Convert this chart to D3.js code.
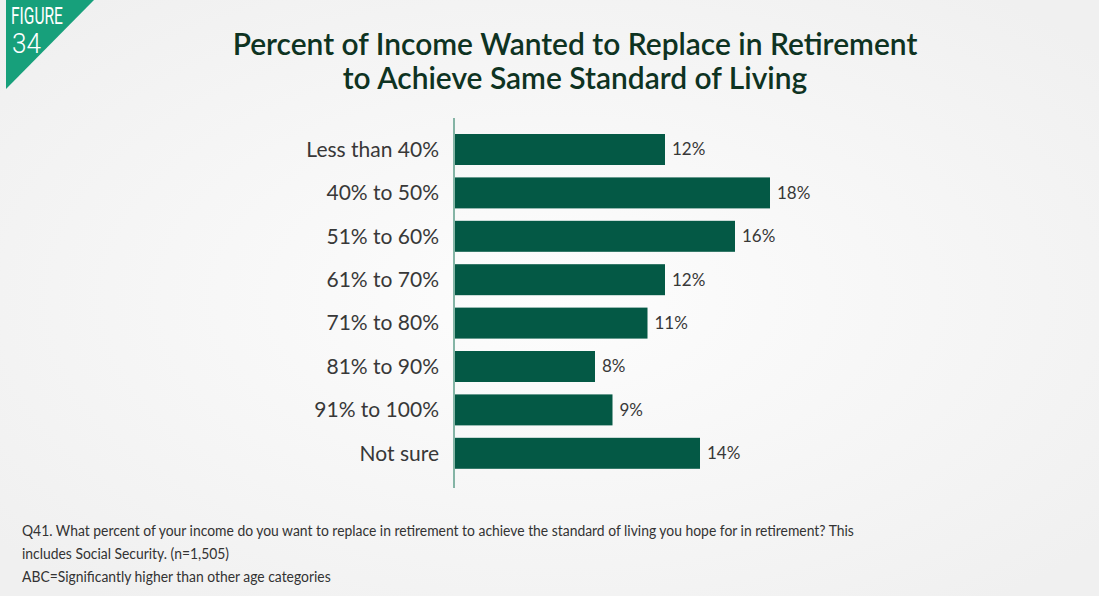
<!DOCTYPE html>
<html>
<head>
<meta charset="utf-8">
<script src="https://cdn.jsdelivr.net/npm/d3@7"></script>
<style>
  html, body { margin: 0; padding: 0; }
  body { width: 1099px; height: 596px; overflow: hidden; }
</style>
</head>
<body>
<div id="chart"></div>
<script>
// data
const categories = ["Less than 40%", "40% to 50%", "51% to 60%", "61% to 70%",
  "71% to 80%", "81% to 90%", "91% to 100%", "Not sure"];
const values = [12, 18, 16, 12, 11, 8, 9, 14];
const titleLines = ["Percent of Income Wanted to Replace in Retirement",
  "to Achieve Same Standard of Living"];
const footLines = [
  "Q41. What percent of your income do you want to replace in retirement to achieve the standard of living you hope for in retirement? This",
  "includes Social Security.  (n=1,505)",
  "ABC=Significantly higher than other age categories"
];

const width = 1099, height = 596;

const svg = d3.select("#chart").append("svg")
  .attr("width", width)
  .attr("height", height);

// soft background
const defs = svg.append("defs");
const grad = defs.append("radialGradient").attr("id", "bg")
  .attr("cx", "50%").attr("cy", "50%").attr("r", "65%");
grad.append("stop").attr("offset", "0%").attr("stop-color", "#fdfdfd");
grad.append("stop").attr("offset", "100%").attr("stop-color", "#f0f0f0");
svg.append("rect").attr("width", width).attr("height", height).attr("fill", "url(#bg)");

// squeeze a text element horizontally to a target width, anchored at its x
function squeeze(sel, target) {
  const w = sel.node().getComputedTextLength();
  const x0 = +sel.attr("x");
  const k = target / w;
  sel.attr("transform", `translate(${x0},0) scale(${k},1) translate(${-x0},0)`);
  return k;
}

// figure badge
svg.append("path")
  .attr("d", "M6,0 L94,0 L6,89 Z")
  .attr("fill", "#17a07b");
svg.append("text")
  .attr("x", 11).attr("y", 24)
  .attr("fill", "#fff")
  .style("font-family", "Roboto, sans-serif")
  .style("font-size", "23px")
  .text("FIGURE")
  .call(s => squeeze(s, 52));
svg.append("text")
  .attr("x", 12).attr("y", 53)
  .attr("fill", "#fff")
  .style("font-family", "Roboto, sans-serif")
  .style("font-weight", 300)
  .style("font-size", "28px")
  .text("34")
  .call(s => squeeze(s, 29));

// title
const title = svg.append("g").selectAll("text")
  .data(titleLines)
  .join("text")
  .attr("x", 575)
  .attr("y", (d, i) => 55 + i * 34)
  .attr("text-anchor", "middle")
  .attr("fill", "#0e3322")
  .style("font-family", "Lato, sans-serif")
  .style("font-weight", 600)
  .style("font-size", "26px")
  .text(d => d);
// fit the first line to the reference width, same size for both
const tw = title.nodes()[0].getComputedTextLength();
title.style("font-size", (26 * 685 / tw) + "px");

// scales
const x = d3.scaleLinear().domain([0, 18]).range([454, 769]);
const y = d3.scaleBand().domain(categories).range([121.6, 481.2]).padding(0.286);

svg.append("line")
  .attr("x1", 454).attr("x2", 454)
  .attr("y1", 118).attr("y2", 488)
  .attr("stroke", "#5e9e8a")
  .attr("stroke-width", 1.5);

svg.append("g").selectAll("rect")
  .data(values)
  .join("rect")
  .attr("x", x(0) + 1)
  .attr("y", (d, i) => y(categories[i]))
  .attr("width", d => x(d) - x(0))
  .attr("height", y.bandwidth())
  .attr("fill", "#045945");

// category labels
svg.append("g").selectAll("text")
  .data(categories)
  .join("text")
  .attr("x", 439)
  .attr("y", d => y(d) + y.bandwidth() / 2)
  .attr("dy", "0.35em")
  .attr("text-anchor", "end")
  .attr("fill", "#383838")
  .style("font-family", "Lato, sans-serif")
  .style("font-size", "21px")
  .text(d => d);

// value labels
svg.append("g").selectAll("text")
  .data(values)
  .join("text")
  .attr("x", d => x(d) + 8)
  .attr("y", (d, i) => y(categories[i]) + y.bandwidth() / 2)
  .attr("dy", "0.35em")
  .attr("fill", "#383838")
  .style("font-family", "Lato, sans-serif")
  .style("font-size", "17px")
  .text(d => d + "%");

// footnote (condensed look)
const foot = svg.append("g").selectAll("text")
  .data(footLines)
  .join("text")
  .attr("x", 22)
  .attr("y", (d, i) => 536 + i * 23)
  .attr("fill", "#333")
  .style("font-family", "Lato, sans-serif")
  .style("font-size", "16px")
  .text(d => d);
const fk = 833 / foot.nodes()[0].getComputedTextLength();
foot.attr("transform", `translate(22,0) scale(${fk},1) translate(-22,0)`);
</script>
</body>
</html>
